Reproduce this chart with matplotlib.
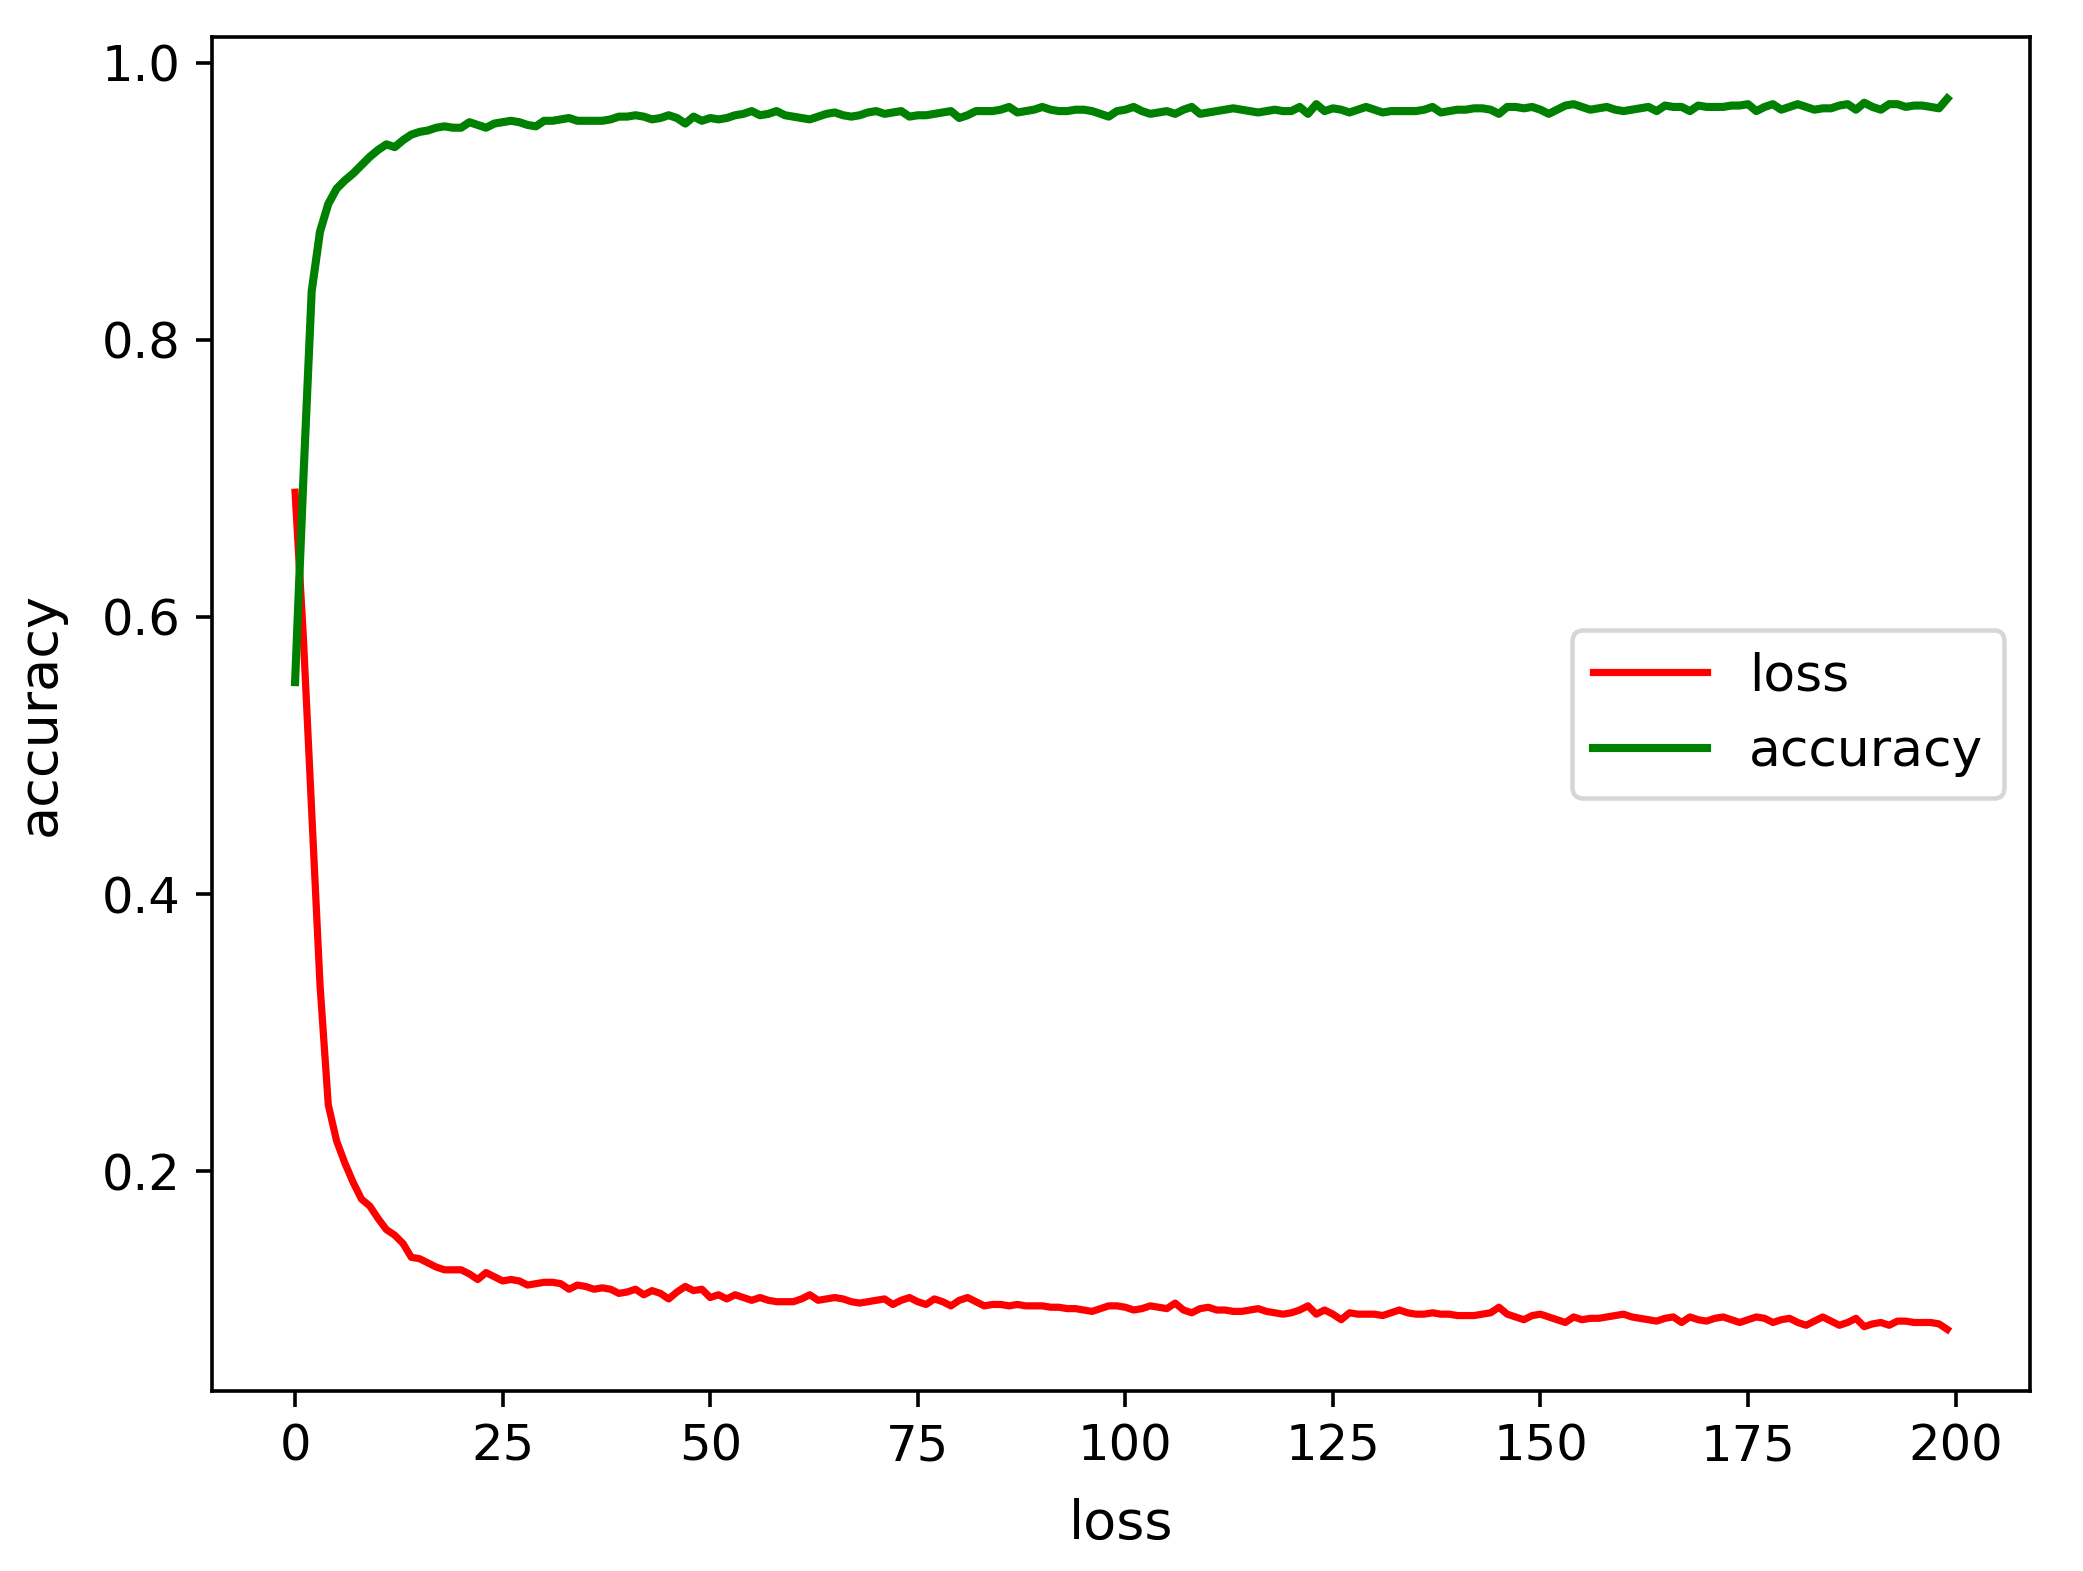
import numpy as np
import matplotlib
matplotlib.use('Agg')
import matplotlib.pyplot as plt

# values, one per epoch
loss = [
    0.690, 0.585, 0.460, 0.335, 0.248, 0.222, 0.206, 0.192, 0.180, 0.175,
    0.166, 0.158, 0.154, 0.148, 0.138, 0.137, 0.134, 0.131, 0.129, 0.129,
    0.129, 0.126, 0.122, 0.127, 0.124, 0.121, 0.122, 0.121, 0.118, 0.119,
    0.120, 0.120, 0.119, 0.115, 0.118, 0.117, 0.115, 0.116, 0.115, 0.112,
    0.113, 0.115, 0.111, 0.114, 0.112, 0.108, 0.113, 0.117, 0.114, 0.115,
    0.109, 0.111, 0.108, 0.111, 0.109, 0.107, 0.109, 0.107, 0.106, 0.106,
    0.106, 0.108, 0.111, 0.107, 0.108, 0.109, 0.108, 0.106, 0.105, 0.106,
    0.107, 0.108, 0.104, 0.107, 0.109, 0.106, 0.104, 0.108, 0.106, 0.103,
    0.107, 0.109, 0.106, 0.103, 0.104, 0.104, 0.103, 0.104, 0.103, 0.103,
    0.103, 0.102, 0.102, 0.101, 0.101, 0.100, 0.099, 0.101, 0.103, 0.103,
    0.102, 0.100, 0.101, 0.103, 0.102, 0.101, 0.105, 0.100, 0.098, 0.101,
    0.102, 0.100, 0.100, 0.099, 0.099, 0.100, 0.101, 0.099, 0.098, 0.097,
    0.098, 0.100, 0.103, 0.097, 0.100, 0.097, 0.093, 0.098, 0.097, 0.097,
    0.097, 0.096, 0.098, 0.100, 0.098, 0.097, 0.097, 0.098, 0.097, 0.097,
    0.096, 0.096, 0.096, 0.097, 0.098, 0.102, 0.097, 0.095, 0.093, 0.096,
    0.097, 0.095, 0.093, 0.091, 0.095, 0.093, 0.094, 0.094, 0.095, 0.096,
    0.097, 0.095, 0.094, 0.093, 0.092, 0.094, 0.095, 0.091, 0.095, 0.093,
    0.092, 0.094, 0.095, 0.093, 0.091, 0.093, 0.095, 0.094, 0.091, 0.093,
    0.094, 0.091, 0.089, 0.092, 0.095, 0.092, 0.089, 0.091, 0.094, 0.088,
    0.090, 0.091, 0.089, 0.092, 0.092, 0.091, 0.091, 0.091, 0.090, 0.086,
]

accuracy = [
    0.553, 0.700, 0.835, 0.878, 0.898, 0.909, 0.915, 0.920, 0.926, 0.932,
    0.937, 0.941, 0.939, 0.944, 0.948, 0.950, 0.951, 0.953, 0.954, 0.953,
    0.953, 0.957, 0.955, 0.953, 0.956, 0.957, 0.958, 0.957, 0.955, 0.954,
    0.958, 0.958, 0.959, 0.960, 0.958, 0.958, 0.958, 0.958, 0.959, 0.961,
    0.961, 0.962, 0.961, 0.959, 0.960, 0.962, 0.960, 0.956, 0.961, 0.958,
    0.960, 0.959, 0.960, 0.962, 0.963, 0.965, 0.962, 0.963, 0.965, 0.962,
    0.961, 0.960, 0.959, 0.961, 0.963, 0.964, 0.962, 0.961, 0.962, 0.964,
    0.965, 0.963, 0.964, 0.965, 0.961, 0.962, 0.962, 0.963, 0.964, 0.965,
    0.960, 0.962, 0.965, 0.965, 0.965, 0.966, 0.968, 0.964, 0.965, 0.966,
    0.968, 0.966, 0.965, 0.965, 0.966, 0.966, 0.965, 0.963, 0.961, 0.965,
    0.966, 0.968, 0.965, 0.963, 0.964, 0.965, 0.963, 0.966, 0.968, 0.963,
    0.964, 0.965, 0.966, 0.967, 0.966, 0.965, 0.964, 0.965, 0.966, 0.965,
    0.965, 0.968, 0.963, 0.970, 0.965, 0.967, 0.966, 0.964, 0.966, 0.968,
    0.966, 0.964, 0.965, 0.965, 0.965, 0.965, 0.966, 0.968, 0.964, 0.965,
    0.966, 0.966, 0.967, 0.967, 0.966, 0.963, 0.968, 0.968, 0.967, 0.968,
    0.966, 0.963, 0.966, 0.969, 0.970, 0.968, 0.966, 0.967, 0.968, 0.966,
    0.965, 0.966, 0.967, 0.968, 0.965, 0.969, 0.968, 0.968, 0.965, 0.969,
    0.968, 0.968, 0.968, 0.969, 0.969, 0.970, 0.965, 0.968, 0.970, 0.966,
    0.968, 0.970, 0.968, 0.966, 0.967, 0.967, 0.969, 0.970, 0.966, 0.971,
    0.968, 0.966, 0.970, 0.970, 0.968, 0.969, 0.969, 0.968, 0.967, 0.974,
]

epochs = np.arange(len(loss))

fig = plt.figure(figsize=(2083 / 325, 1571 / 325), dpi=325)
ax = fig.add_axes([0.102, 0.1146, 0.8725, 0.8618])

ax.plot(epochs, loss, color='red', lw=1.6, label='loss')
ax.plot(epochs, accuracy, color='green', lw=1.8, label='accuracy')

ax.tick_params(labelsize=11)
ax.set_xlabel('loss', fontsize=12, labelpad=6)
ax.set_ylabel('accuracy', fontsize=12, labelpad=8)
ax.legend(loc='center right', fontsize=11.5, handlelength=2.2)

fig.savefig('out.png', dpi=325)
